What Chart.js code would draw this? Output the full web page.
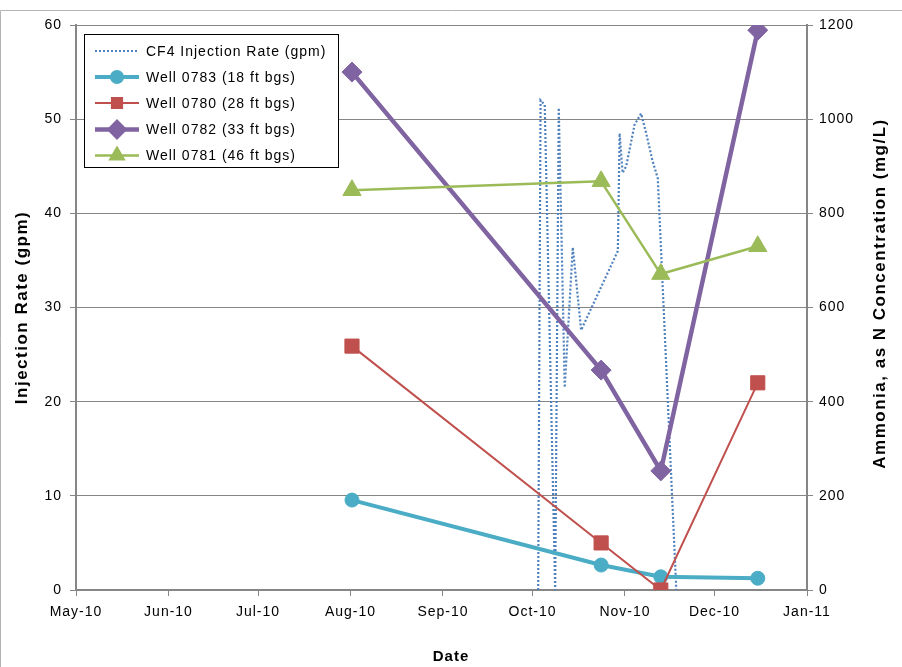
<!DOCTYPE html>
<html>
<head>
<meta charset="utf-8">
<title>Injection Rate and Ammonia</title>
<script src="https://cdn.jsdelivr.net/npm/chart.js@4.4.0/dist/chart.umd.min.js"></script>
<style>
  html, body { margin: 0; padding: 0; background: #fff; }
  canvas { display: block; }
</style>
</head>
<body>
<canvas id="grafico" width="902" height="667"></canvas>
<script>
// eixo x: dias contados a partir de 1 de maio de 2010
const monthTicks = [0, 31, 61, 92, 123, 153, 184, 214, 245];
const monthLabels = ['May-10', 'Jun-10', 'Jul-10', 'Aug-10', 'Sep-10', 'Oct-10', 'Nov-10', 'Dec-10', 'Jan-11'];

// CF4 injection rate (gpm), eixo esquerdo
const injDays = [154.9, 155.7, 157.1, 160.6, 161.8, 163.8, 166.5, 169.3, 181.6, 182.2, 183.2, 184.4, 187.2, 189.4, 191.1, 193.2, 195.0, 201.2];
const injRate = [0, 52, 51.5, 0, 51.2, 21.5, 36.4, 27.6, 36, 48.5, 44.3, 45, 49.4, 50.6, 48.5, 45.6, 43.7, 0];

// amostras dos poços (mg/L), eixo direito
const sampleDays = [92.5, 176, 196, 228.5];
const well0783 = [191, 53, 28, 25];
const well0780 = [518, 100, 0, 440];
const well0782 = [1100, 467, 253, 1189];
const well0781 = [849, 868, 671, 730];

const leftTitle = 'Injection Rate (gpm)';
const rightTitle = 'Ammonia, as N Concentration (mg/L)';
const xTitle = 'Date';

const fonte = '"Liberation Sans", Arial, sans-serif';
const cinza = '#868686';

function pontos(xs, ys) {
    return xs.map((x, i) => ({ x: x, y: ys[i] }));
}

function serieWell(label, valores, cor, largura, estilo, raio, ordem) {
    return {
        label: label,
        data: pontos(sampleDays, valores),
        yAxisID: 'y1',
        borderColor: cor,
        backgroundColor: cor,
        borderWidth: largura,
        pointStyle: estilo,
        pointRadius: raio,
        pointBackgroundColor: cor,
        pointBorderColor: cor,
        pointBorderWidth: 1,
        borderJoinStyle: 'round',
        order: ordem
    };
}

// título dos eixos, legenda e borda desenhados à mão
const desenho = {
    id: 'desenho',
    beforeDraw(chart) {
        const ctx = chart.ctx;
        ctx.letterSpacing = '1px';
        ctx.save();
        ctx.strokeStyle = '#b4b4b4';
        ctx.lineWidth = 1;
        ctx.beginPath();
        ctx.moveTo(0.5, 667);
        ctx.lineTo(0.5, 10.5);
        ctx.lineTo(902, 10.5);
        ctx.stroke();
        ctx.restore();
    },
    afterDatasetsDraw(chart) {
        const ctx = chart.ctx;
        ctx.save();
        ctx.fillStyle = '#fff';
        ctx.fillRect(84, 34, 254, 133);
        ctx.strokeStyle = '#000';
        ctx.lineWidth = 1;
        ctx.strokeRect(84.5, 34.5, 254, 133);

        const linhas = [51, 77, 103, 129.5, 155.5];
        chart.data.datasets.forEach((ds, i) => {
            const y = linhas[i];
            ctx.save();
            ctx.strokeStyle = ds.borderColor;
            ctx.lineWidth = ds.borderWidth;
            ctx.setLineDash(ds.borderDash || []);
            ctx.beginPath();
            ctx.moveTo(95, y);
            ctx.lineTo(139, y);
            ctx.stroke();
            ctx.setLineDash([]);
            if (ds.pointRadius > 0) {
                ctx.fillStyle = ds.pointBackgroundColor;
                ctx.strokeStyle = ds.pointBorderColor;
                Chart.helpers.drawPoint(ctx, {
                    pointStyle: ds.pointStyle,
                    radius: ds.pointRadius * 0.72,
                    rotation: 0,
                    borderWidth: 1
                }, 117, y);
            }
            ctx.restore();

            ctx.fillStyle = '#000';
            ctx.font = '14px ' + fonte;
            ctx.letterSpacing = '1px';
            ctx.textAlign = 'left';
            ctx.textBaseline = 'middle';
            ctx.fillText(ds.label, 146, y + 1);
        });
        ctx.restore();
    },
    afterDraw(chart) {
        const ctx = chart.ctx;
        const area = chart.chartArea;
        const meio = (area.top + area.bottom) / 2;
        ctx.save();
        ctx.fillStyle = '#000';
        ctx.font = 'bold 17px ' + fonte;
        ctx.letterSpacing = '1.5px';
        ctx.textAlign = 'center';
        ctx.textBaseline = 'middle';

        ctx.save();
        ctx.translate(22, meio);
        ctx.rotate(-Math.PI / 2);
        ctx.fillText(leftTitle, 0, 0);
        ctx.restore();

        ctx.save();
        ctx.translate(880, meio - 14);
        ctx.rotate(-Math.PI / 2);
        ctx.fillText(rightTitle, 0, 0);
        ctx.restore();

        ctx.font = 'bold 15px ' + fonte;
        ctx.letterSpacing = '1px';
        ctx.fillText(xTitle, 451, 657);
        ctx.restore();
    }
};

const ctx = document.getElementById('grafico').getContext('2d');
const grafico = new Chart(ctx, {
    type: 'line',
    data: {
        datasets: [
            {
                label: 'CF4 Injection Rate (gpm)',
                data: pontos(injDays, injRate),
                yAxisID: 'y',
                borderColor: '#4F81BD',
                backgroundColor: '#4F81BD',
                borderWidth: 2.2,
                borderDash: [2, 2],
                pointRadius: 0,
                tension: 0,
                order: 5
            },
            serieWell('Well 0783 (18 ft bgs)', well0783, '#4BACC6', 4, 'circle', 7, 4),
            serieWell('Well 0780 (28 ft bgs)', well0780, '#C0504D', 2, 'rect', 10, 3),
            serieWell('Well 0782 (33 ft bgs)', well0782, '#8064A2', 4.5, 'rectRot', 10, 2),
            serieWell('Well 0781 (46 ft bgs)', well0781, '#9BBB59', 2.5, 'triangle', 10.5, 1)
        ]
    },
    options: {
        responsive: false,
        animation: false,
        layout: { padding: { top: 25, left: 0, right: 0, bottom: 0 } },
        plugins: {
            legend: { display: false },
            tooltip: { enabled: false }
        },
        scales: {
            x: {
                type: 'linear',
                min: 0,
                max: 245,
                afterBuildTicks: function (scale) {
                    scale.ticks = monthTicks.map(v => ({ value: v }));
                },
                afterFit: function (scale) { scale.height = 77; },
                ticks: {
                    autoSkip: false,
                    maxRotation: 0,
                    padding: 8,
                    color: '#000',
                    font: { family: fonte, size: 14 },
                    callback: function (value, index) { return monthLabels[index]; }
                },
                grid: { drawOnChartArea: false, drawTicks: true, tickLength: 6, color: cinza },
                border: { color: cinza, width: 2 }
            },
            y: {
                position: 'left',
                min: 0,
                max: 60,
                afterFit: function (scale) { scale.width = 76; },
                ticks: {
                    stepSize: 10,
                    padding: 8,
                    color: '#000',
                    font: { family: fonte, size: 14 },
                    callback: function (value) { return String(value); }
                },
                grid: { color: cinza, lineWidth: 1, drawTicks: true, tickLength: 6 },
                border: { color: cinza, width: 2 }
            },
            y1: {
                position: 'right',
                min: 0,
                max: 1200,
                afterFit: function (scale) { scale.width = 95; },
                ticks: {
                    stepSize: 200,
                    padding: 6,
                    color: '#000',
                    font: { family: fonte, size: 14 },
                    callback: function (value) { return String(value); }
                },
                grid: { drawOnChartArea: false, drawTicks: true, tickLength: 6, color: cinza },
                border: { color: cinza, width: 2 }
            }
        }
    },
    plugins: [desenho]
});
</script>
</body>
</html>
